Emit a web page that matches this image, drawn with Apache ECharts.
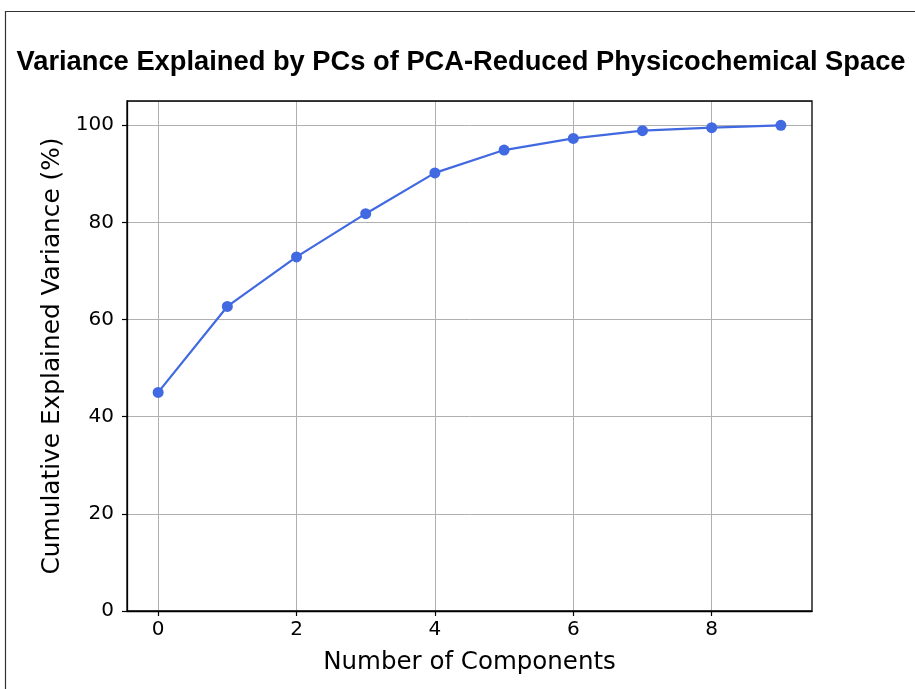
<!DOCTYPE html>
<html>
<head>
<meta charset="utf-8">
<script src="https://cdn.jsdelivr.net/npm/echarts@6/dist/echarts.min.js"></script>
<style>html,body{margin:0;padding:0;background:#fff}#c{width:915px;height:689px}</style>
</head>
<body>
<div id="c"></div>
<script>
const components = [0, 1, 2, 3, 4, 5, 6, 7, 8, 9];
const cumulativeVariance = [45.0, 62.7, 72.9, 81.8, 90.2, 94.9, 97.3, 98.9, 99.5, 100.0];
const xTicks = [0, 2, 4, 6, 8];
const yTicks = [0, 20, 40, 60, 80, 100];

const chart = echarts.init(document.getElementById('c'), null, {renderer: 'canvas'});
const tickFont = {fontFamily: 'DejaVu Sans', fontSize: 20, color: '#000'};
chart.setOption({
  animation: false,
  backgroundColor: '#fff',
  title: {
    text: 'Variance Explained by PCs of PCA-Reduced Physicochemical Space',
    left: 456, top: 44, textAlign: 'center',
    textStyle: {fontFamily: 'Liberation Sans', fontWeight: 'bold', fontSize: 27.3, color: '#000'}
  },
  graphic: [{
    type: 'rect', shape: {x: 5.5, y: 11.5, width: 1000, height: 1000},
    style: {fill: 'none', stroke: '#333', lineWidth: 1.2}, silent: true, z: 0
  }],
  grid: {left: 127, top: 101, right: 103, bottom: 78, show: true, borderColor: '#000', borderWidth: 1.3, backgroundColor: 'transparent', z: 3},
  xAxis: {
    type: 'value', min: -0.45, max: 9.45,
    name: 'Number of Components', nameLocation: 'middle', nameGap: 39,
    nameTextStyle: {fontFamily: 'DejaVu Sans', fontSize: 24.5, color: '#000'},
    axisLine: {show: true, onZero: false, lineStyle: {color: '#000', width: 1.3}},
    axisTick: {show: true, length: 5, customValues: xTicks, lineStyle: {color: '#000', width: 1.2}},
    axisLabel: Object.assign({customValues: xTicks, margin: 9, formatter: v => String(v)}, tickFont),
    splitLine: {show: true, customValues: xTicks, lineStyle: {color: '#b0b0b0', width: 1}}
  },
  yAxis: {
    type: 'value', min: 0, max: 105, interval: 20,
    name: 'Cumulative Explained Variance (%)', nameLocation: 'middle', nameGap: 61,
    nameTextStyle: {fontFamily: 'DejaVu Sans', fontSize: 24.8, color: '#000'},
    axisLine: {show: true, onZero: false, lineStyle: {color: '#000', width: 1.3}},
    axisTick: {show: true, length: 5, lineStyle: {color: '#000', width: 1.2}},
    axisLabel: Object.assign({margin: 13, showMaxLabel: false}, tickFont),
    splitLine: {show: true, lineStyle: {color: '#b0b0b0', width: 1}}
  },
  series: [{
    type: 'line',
    data: components.map((c, i) => [c, cumulativeVariance[i]]),
    symbol: 'circle', symbolSize: 11,
    lineStyle: {color: '#4169E1', width: 2.2},
    itemStyle: {color: '#4169E1'},
    z: 5
  }]
});
</script>
</body>
</html>
